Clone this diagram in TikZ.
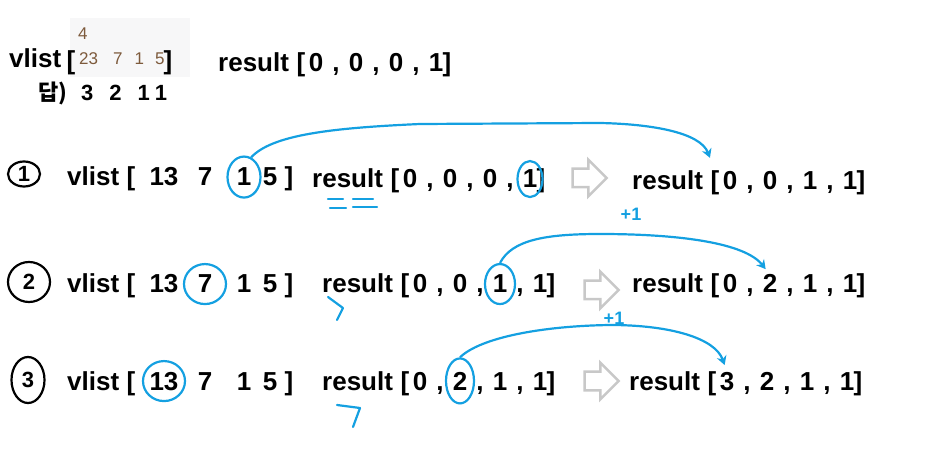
\documentclass[tikz,border=0pt]{standalone}
\usepackage{fontspec}
\setmainfont{Liberation Sans}
\newfontfamily\kr{Noto Sans CJK KR}
\usetikzlibrary{arrows.meta,positioning,shapes.geometric,shapes.arrows}

\definecolor{hlblue}{RGB}{20,160,225}
\definecolor{arrowgrey}{RGB}{200,200,200}
\definecolor{boxgrey}{RGB}{247,247,248}
\definecolor{typedbrown}{RGB}{125,90,60}

% one array: result[a, b, c, d]
\newcommand{\resarr}[4]{%
  \node[hw,anchor=base west] (#1) at (#2,#3) {result};
  \node[hw] (#1-l) at (#2+83,#3) {[};
  \foreach \v [count=\i] in {#4} \node[hw] (#1-\i) at ({#2+58+40*\i},#3) {\v};
  \foreach \i in {1,2,3} \node[hw] (#1-c\i) at ({#2+78+40*\i},#3) {,};
  \node[hw] (#1-r) at (#2+229,#3) {]};
}
% one list: vlist [13 7 1 5]
\newcommand{\vlistrow}[2]{%
  \node[hw,anchor=base west] (#1) at (67,#2) {vlist};
  \node[hw] (#1-l) at (131,#2) {[};
  \foreach \v/\x [count=\i] in {13/164,7/205,1/244,5/270} \node[hw] (#1-\i) at (\x,#2) {\v};
  \node[hw] (#1-r) at (289,#2) {]};
}

\begin{document}
\begin{tikzpicture}[
  x=1pt, y=-1pt,
  hw/.style={font=\fontsize{26}{26}\selectfont\bfseries,anchor=base,inner sep=0pt},
  typed/.style={font=\fontsize{17}{17}\selectfont,text=typedbrown,anchor=base west,inner sep=0pt},
  ring/.style={ellipse,draw=hlblue,line width=2.2pt,inner sep=0pt},
  numring/.style={ellipse,draw,line width=2.2pt,inner sep=0pt,font=\fontsize{22}{22}\selectfont\bfseries},
  nextarrow/.style={single arrow,draw=arrowgrey,line width=2.5pt,inner xsep=0pt,inner ysep=8pt,minimum height=34pt,single arrow head extend=9pt},
  link/.style={draw=hlblue,line width=2.2pt,-{Stealth[length=9pt,width=10pt]}},
  scribble/.style={draw=hlblue,line width=2.2pt,line cap=round,line join=round},
  plus/.style={text=hlblue,font=\fontsize{18}{18}\selectfont\bfseries,inner sep=0pt}
]
\useasboundingbox (0,0) rectangle (930,449);

% input and answer
\fill[boxgrey] (70,18) rectangle (190,77);
\node[typed] (tn) at (78,40) {4};
\node[typed] (tv) at (79,65) {23\hspace{15pt}7\hspace{12pt}1\hspace{11pt}5};
\node[hw,anchor=base west] (v0) at (9,68) {vlist};
\node[hw] (v0-l) at (71,70) {[};
\node[hw] (v0-r) at (168,70) {]};
\resarr{r0}{218}{72}{0,0,0,1}
\node[font=\fontsize{22}{22}\selectfont\bfseries,anchor=base west,inner sep=0pt] (ans) at (38,101)
  {{\kr\bfseries 답)}\hspace{14pt}3\hspace{16pt}2\hspace{16pt}1\hspace{5pt}1};

% step 1
\node[numring,minimum width=32pt,minimum height=25pt] (n1) at (24,174) {1};
\vlistrow{v1}{186}
\resarr{r1a}{312}{188}{0,0,0,1}
\node[nextarrow] (g1) at (585,178) {};
\resarr{r1b}{632}{190}{0,0,1,1}
\node[ring,minimum width=33pt,minimum height=41pt] (e1) at (v1-3.center) {};
\node[ring,minimum width=25pt,minimum height=36pt] (e2) at (r1a-4.center) {};
\draw[link,shorten >=14pt] (e1.70) .. controls (272,135) and (330,128) .. (420,124)
  -- (600,123) .. controls (650,124) and (700,132) .. (r1b-l.north);
\draw[scribble] (328,199) -- (343,199) (330,208) -- (346,208)
  (353,199) -- (373,199) (353,207) -- (377,207);

% step 2
\node[numring,minimum width=42pt,minimum height=40pt] (n2) at (29,282) {2};
\vlistrow{v2}{293}
\resarr{r2a}{322}{293}{0,0,1,1}
\node[nextarrow] (g2) at (597,290) {};
\resarr{r2b}{632}{293}{0,2,1,1}
\node[ring,minimum width=42pt,minimum height=40pt] (e3) at (v2-2.center) {};
\node[ring,minimum width=30pt,minimum height=40pt] (e4) at (r2a-3.center) {};
\draw[link,shorten >=7pt] (e4.north) .. controls (512,240) and (545,234) .. (600,234)
  .. controls (680,234) and (745,243) .. (r2b-2.north);
\node[plus] (p2) at (631,214) {+1};
\draw[scribble] (328,297) -- (343,308) -- (337,320);

% step 3
\node[numring,minimum width=33pt,minimum height=46pt] (n3) at (28,380) {3};
\vlistrow{v3}{390}
\resarr{r3a}{322}{390}{0,2,1,1}
\node[nextarrow] (g3) at (597,381) {};
\resarr{r3b}{629}{390}{3,2,1,1}
\node[ring,minimum width=42pt,minimum height=40pt] (e5) at (v3-1.center) {};
\node[ring,minimum width=28pt,minimum height=45pt] (e6) at (r3a-2.center) {};
\draw[link,shorten >=7pt] (e6.north) .. controls (480,338) and (540,326) .. (610,325)
  .. controls (670,325) and (715,338) .. (r3b-1.north);
\node[plus] (p3) at (614,318) {+1};
\draw[scribble] (337,405) -- (360,408) -- (353,427);
\end{tikzpicture}
\end{document}
